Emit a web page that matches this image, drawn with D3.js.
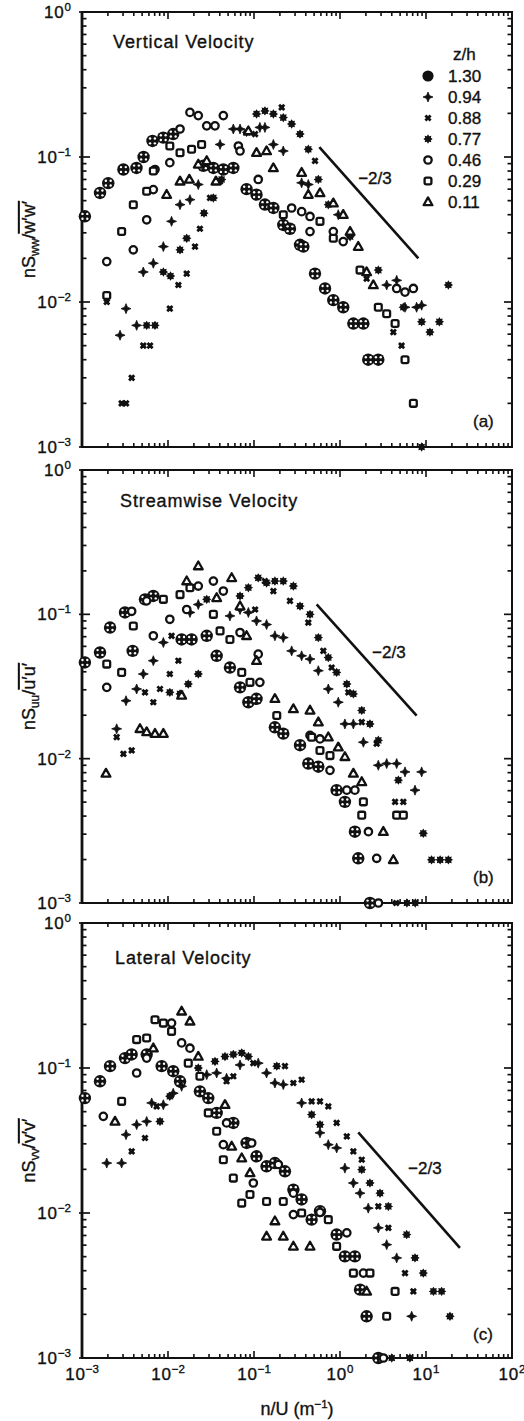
<!DOCTYPE html>
<html>
<head>
<meta charset="utf-8">
<script src="https://cdn.jsdelivr.net/npm/d3@7"></script>
<style>
  body { margin: 0; background: #fff; }
  svg { display: block; }
  text { font-family: "Liberation Sans", Arial, Helvetica, sans-serif; fill: #111; stroke: #111; stroke-width: 0.35px; }
</style>
</head>
<body>
<svg id="chart" width="524" height="1421"></svg>
<script>
// ---- axis ticks and labels ----
const xTickValues = [1e-3, 1e-2, 1e-1, 1e0, 1e1, 1e2];
const xTickExponents = ["−3", "−2", "−1", "0", "1", "2"];
const yTickValues = [1e-3, 1e-2, 1e-1, 1e0];
const yTickExponents = ["−3", "−2", "−1", "0"];

// ---- legend: measurement heights z/h ----
const heights = ["1.30", "0.94", "0.88", "0.77", "0.46", "0.29", "0.11"];

const panelTitles = ["Vertical Velocity", "Streamwise Velocity", "Lateral Velocity"];
const panelTags = ["(a)", "(b)", "(c)"];
const components = ["ww", "uu", "vv"];
const primes = ["w′w′", "u′u′", "v′v′"];

// ---- -2/3 reference lines: endpoints [n/U, spectrum] and label anchor ----
const slopeLines = [
  [[0.575, 0.117], [8.15, 0.020]],
  [[0.535, 0.117], [7.78, 0.0199]],
  [[1.63, 0.036], [24.8, 0.00574]]
];
const slopeLabelAt = [[2.55, 0.0716], [3.7, 0.0545], [9.7, 0.0204]];
const slopeLabel = "−2/3";

// ---- (a) vertical velocity spectra  [n/U, nSww/w'w'] ----
const w130 = [[1.08e-3,0.039],[1.62e-3,0.0565],[2.02e-3,0.066],[3.03e-3,0.082],[4.3e-3,0.084],[5.2e-3,0.10],[6.6e-3,0.129],[8.8e-3,0.136],[0.0115,0.144],[0.0258,0.087],[0.0337,0.084],[0.044,0.082],[0.0575,0.084],[0.082,0.060],[0.107,0.055],[0.134,0.047],[0.168,0.0445],[0.219,0.034],[0.262,0.032],[0.343,0.0248],[0.375,0.0241],[0.512,0.0157],[0.67,0.0124],[0.836,0.0103],[1.09,0.0092],[1.43,0.0071],[1.87,0.0071],[2.13,0.0040],[2.79,0.0040]];
const w094 = [[2.77e-3,0.0059],[3.25e-3,0.0090],[4.32e-3,0.0069],[5.16e-3,0.0161],[6.75e-3,0.0185],[8.83e-3,0.0241],[0.011,0.036],[0.0138,0.0469],[0.018,0.0508],[0.0225,0.0646],[0.0403,0.122],[0.0575,0.156],[0.0688,0.156],[0.117,0.16],[0.134,0.16],[0.168,0.122],[0.219,0.110],[0.358,0.0664],[0.428,0.0646],[0.955,0.040],[3.49,0.0131],[4.56,0.0141],[5.7,0.0092],[7.78,0.0092],[8.9,0.0095]];
const w088 = [[1.94e-3,0.0100],[2.89e-3,0.0020],[3.25e-3,0.0020],[3.78e-3,0.0030],[5.16e-3,0.0050],[6.18e-3,0.0050],[0.0105,0.0090],[0.0132,0.0131],[0.0165,0.0157],[0.0206,0.0241],[0.0235,0.032],[0.0308,0.0522],[0.0403,0.068],[0.103,0.144],[0.21,0.22],[0.512,0.094],[2.04,0.0145],[4.17,0.0062],[5.2,0.0050]];
const w077 = [[5.65e-3,0.0069],[7.06e-3,0.0069],[8.83e-3,0.0161],[0.0107,0.0151],[0.0138,0.0229],[0.0165,0.0275],[0.0262,0.041],[0.0337,0.0522],[0.042,0.070],[0.082,0.148],[0.107,0.198],[0.134,0.208],[0.168,0.198],[0.219,0.187],[0.274,0.169],[0.343,0.144],[0.428,0.113],[0.56,0.070],[0.731,0.0469],[1.31,0.0282],[2.79,0.0166],[5.45,0.0092],[8.9,0.0073],[11.1,0.0062],[14.3,0.0073],[18.2,0.0131],[8.9,0.001]];
const w046 = [[1.94e-3,0.019],[3.95e-3,0.0229],[5.65e-3,0.0369],[6.75e-3,0.0596],[7.06e-3,0.082],[0.0105,0.0914],[0.0138,0.156],[0.018,0.203],[0.0225,0.193],[0.0282,0.164],[0.0352,0.164],[0.044,0.193],[0.0658,0.119],[0.0688,0.110],[0.112,0.070],[0.274,0.0445],[0.358,0.042],[0.448,0.0389],[0.448,0.0306],[0.836,0.0306],[1.09,0.0261],[4.56,0.0124],[5.7,0.0117],[7.13,0.0124]];
const w029 = [[1.94e-3,0.0111],[2.89e-3,0.0306],[3.95e-3,0.0469],[5.65e-3,0.058],[6.75e-3,0.080],[0.0105,0.119],[0.0138,0.107],[0.0188,0.113],[0.0246,0.122],[0.219,0.040],[0.585,0.036],[0.836,0.0275],[1.71,0.0166],[2.79,0.0092],[3.49,0.0083],[4.37,0.0071],[5.7,0.0040],[7.13,0.0020]];
const w011 = [[9.64e-3,0.055],[0.0138,0.068],[0.0177,0.070],[0.0225,0.089],[0.0282,0.094],[0.0361,0.068],[0.086,0.151],[0.107,0.107],[0.14,0.110],[0.168,0.084],[0.358,0.078],[0.428,0.055],[0.585,0.0565],[0.836,0.048],[1.09,0.040],[1.31,0.0306],[1.63,0.0241],[2.04,0.0161],[2.44,0.0131]];

// ---- (b) streamwise velocity spectra  [n/U, nSuu/u'u'] ----
const u130 = [[1.08e-3,0.0464],[1.62e-3,0.0544],[2.12e-3,0.081],[3.16e-3,0.103],[3.88e-3,0.0558],[5.4e-3,0.127],[6.75e-3,0.134],[0.0144,0.067],[0.0188,0.067],[0.0282,0.071],[0.0368,0.0516],[0.0525,0.0428],[0.0688,0.0312],[0.086,0.0246],[0.107,0.026],[0.175,0.0165],[0.219,0.0149],[0.343,0.0124],[0.428,0.00925],[0.56,0.0088],[0.914,0.00605],[1.14,0.00502],[1.49,0.00312],[1.63,0.00204],[2.23,0.001]];
const u094 = [[2.53e-3,0.0161],[3.25e-3,0.0252],[4.32e-3,0.0304],[5.16e-3,0.0386],[6.75e-3,0.0477],[8.83e-3,0.0638],[0.018,0.103],[0.0225,0.117],[0.0525,0.0975],[0.0688,0.108],[0.086,0.103],[0.107,0.090],[0.14,0.085],[0.175,0.071],[0.219,0.069],[0.274,0.0558],[0.358,0.0516],[0.448,0.049],[0.56,0.0407],[0.731,0.0304],[0.955,0.0246],[1.14,0.0174],[1.43,0.0174],[1.87,0.013],[2.79,0.009],[3.49,0.00925],[4.56,0.00925],[5.7,0.0081],[7.45,0.00605],[8.9,0.0081]];
const u088 = [[2.53e-3,0.0141],[3.03e-3,0.0108],[3.78e-3,0.0114],[5.4e-3,0.0288],[6.75e-3,0.0246],[8.07e-3,0.0304],[0.0105,0.0386],[0.0132,0.0477],[0.011,0.071],[0.103,0.108],[0.134,0.17],[0.168,0.145],[0.262,0.124],[0.428,0.0877],[0.64,0.0558],[0.8,0.0428],[1.25,0.0288],[1.79,0.0179],[2.67,0.0127],[4.37,0.00502],[5.45,0.00502],[4.5,0.001]];
const u077 = [[0.0105,0.0288],[0.0138,0.0281],[0.0172,0.0329],[0.0225,0.0386],[0.0282,0.127],[0.0688,0.134],[0.086,0.153],[0.112,0.179],[0.14,0.165],[0.175,0.17],[0.219,0.17],[0.287,0.157],[0.343,0.114],[0.448,0.100],[0.56,0.069],[0.731,0.0502],[0.914,0.0396],[1.2,0.0329],[1.43,0.0281],[1.79,0.0216],[2.23,0.0174],[2.79,0.0134],[4.77,0.0071],[9.3,0.00304],[11.6,0.00199],[14.6,0.00199],[18.2,0.00199],[6.0,0.001],[7.5,0.001]];
const u046 = [[1.94e-3,0.0312],[3.78e-3,0.105],[5.65e-3,0.124],[6.75e-3,0.071],[0.0105,0.0924],[0.0165,0.108],[0.0225,0.157],[0.0337,0.17],[0.044,0.145],[0.0688,0.0748],[0.112,0.053],[0.117,0.0338],[0.448,0.0145],[0.585,0.0137],[0.765,0.0083],[1.2,0.00605],[1.49,0.00605],[2.14,0.00312],[2.67,0.00204],[2.8,0.001]];
const u029 = [[1.94e-3,0.0452],[2.89e-3,0.0396],[3.95e-3,0.083],[8.83e-3,0.127],[0.0138,0.137],[0.018,0.153],[0.0337,0.100],[0.0403,0.0768],[0.0525,0.067],[0.072,0.0396],[0.0898,0.0338],[0.184,0.0199],[0.468,0.0141],[0.585,0.0114],[0.765,0.0105],[1.87,0.00502],[1.79,0.00406],[4.56,0.00406],[5.45,0.00406]];
const u011 = [[1.9e-3,0.0079],[4.72e-3,0.0161],[5.65e-3,0.0153],[7.06e-3,0.0149],[8.83e-3,0.0149],[0.0144,0.0274],[0.0165,0.17],[0.0225,0.216],[0.0368,0.13],[0.055,0.179],[0.0688,0.114],[0.082,0.071],[0.107,0.0477],[0.175,0.026],[0.287,0.0221],[0.448,0.0216],[0.56,0.0179],[0.731,0.0141],[0.955,0.012],[1.14,0.0103],[1.43,0.0079],[1.79,0.0069],[3.19,0.00312],[4.17,0.00199]];

// ---- (c) lateral velocity spectra  [n/U, nSvv/v'v'] ----
const v130 = [[1.08e-3,0.062],[1.62e-3,0.081],[2.12e-3,0.103],[3.16e-3,0.117],[3.78e-3,0.124],[5.65e-3,0.124],[8.44e-3,0.103],[0.0115,0.095],[0.0138,0.081],[0.0235,0.069],[0.0294,0.062],[0.0368,0.049],[0.0575,0.0418],[0.082,0.0304],[0.107,0.0246],[0.14,0.021],[0.175,0.0221],[0.229,0.0194],[0.287,0.0145],[0.358,0.0124],[0.468,0.009],[0.585,0.0103],[0.914,0.0071],[1.14,0.00502],[1.49,0.00502],[1.71,0.00296],[2.04,0.00194],[2.79,0.001]];
const v094 = [[1.94e-3,0.0221],[2.89e-3,0.0221],[3.25e-3,0.0347],[4.32e-3,0.0407],[5.65e-3,0.0428],[6.46e-3,0.0574],[8.83e-3,0.0558],[0.0115,0.067],[0.0144,0.0748],[0.0282,0.090],[0.0368,0.0924],[0.048,0.085],[0.0688,0.105],[0.112,0.108],[0.14,0.0924],[0.175,0.0788],[0.219,0.0768],[0.358,0.0574],[0.585,0.0357],[0.731,0.0296],[0.914,0.0281],[1.14,0.0204],[1.43,0.0161],[1.71,0.0137],[2.13,0.0108],[2.79,0.0079],[3.49,0.00605],[4.56,0.0049],[6.81,0.00194]];
const v088 = [[3.78e-3,0.0266],[5.4e-3,0.0329],[7.38e-3,0.0544],[0.048,0.081],[0.0575,0.0877],[0.0982,0.108],[0.229,0.103],[0.287,0.0788],[0.358,0.083],[0.468,0.0589],[0.585,0.0589],[0.731,0.0544],[0.914,0.0418],[1.2,0.0338],[1.43,0.0266],[1.79,0.0233],[2.79,0.0111],[3.65,0.0079],[5.7,0.00385],[7.13,0.00288]];
const v077 = [[8.07e-3,0.0428],[0.0105,0.0638],[0.0225,0.100],[0.0352,0.111],[0.046,0.12],[0.0575,0.124],[0.072,0.127],[0.086,0.12],[0.184,0.103],[0.468,0.0477],[0.585,0.0407],[1.79,0.0199],[2.23,0.0161],[2.92,0.0137],[3.65,0.0111],[5.96,0.0071],[7.45,0.0049],[9.3,0.00385],[12.2,0.00288],[15.2,0.00288],[19.0,0.00194],[4.0,0.001],[6.5,0.001]];
const v046 = [[1.77e-3,0.0464],[4.32e-3,0.0924],[5.65e-3,0.117],[0.011,0.204],[0.0144,0.149],[0.018,0.137],[0.044,0.0296],[0.048,0.0418],[0.094,0.0304],[0.0982,0.0161],[0.192,0.0216],[0.287,0.0137],[0.287,0.00975],[0.585,0.0101],[1.2,0.0073],[1.87,0.00385],[3.2,0.001]];
const v029 = [[2.89e-3,0.0589],[4.32e-3,0.157],[5.65e-3,0.161],[7.06e-3,0.215],[8.83e-3,0.204],[0.011,0.179],[0.0172,0.108],[0.0235,0.0877],[0.0294,0.049],[0.0368,0.0366],[0.044,0.0233],[0.0575,0.0174],[0.072,0.0117],[0.0898,0.0134],[0.14,0.012],[0.219,0.012],[0.358,0.010],[0.731,0.009],[0.914,0.00589],[1.43,0.00385],[2.23,0.00385],[3.49,0.00194],[4.37,0.00288]];
const v011 = [[2.42e-3,0.0428],[6.75e-3,0.137],[0.0144,0.246],[0.018,0.21],[0.0225,0.12],[0.046,0.0558],[0.055,0.0288],[0.072,0.0239],[0.0898,0.0189],[0.14,0.0069],[0.175,0.0088],[0.219,0.0069],[0.287,0.00589],[0.448,0.00589],[2.04,0.00288]];

// series per panel, in legend order (1.30 ... 0.11)
const panelSeries = [
  [w130, w094, w088, w077, w046, w029, w011],
  [u130, u094, u088, u077, u046, u029, u011],
  [v130, v094, v088, v077, v046, v029, v011]
];

// ---- layout ----
const ink = "#111";
const plotLeft = 82, plotRight = 512;
const frames = [
  { top: 12, bottom: 447 },
  { top: 470, bottom: 903 },
  { top: 923, bottom: 1358 }
];

const svg = d3.select("#chart");
const x = d3.scaleLog().domain([1e-3, 1e2]).range([plotLeft, plotRight]);

// minor/major tick positions for a log axis
function logTicks(lo, hi) {
  const out = [];
  for (let e = Math.log10(lo); e < Math.log10(hi); e++) {
    for (let m = 1; m <= 9; m++) out.push({ v: m * Math.pow(10, e), major: m === 1 });
  }
  out.push({ v: hi, major: true });
  return out;
}

// marker glyphs, one per height
function starPath(points, rOut, rIn) {
  const pts = [];
  for (let i = 0; i < points * 2; i++) {
    const r = i % 2 === 0 ? rOut : rIn;
    const a = Math.PI * i / points - Math.PI / 2;
    pts.push([r * Math.cos(a), r * Math.sin(a)]);
  }
  return "M" + pts.map(p => p[0].toFixed(2) + "," + p[1].toFixed(2)).join("L") + "Z";
}

function drawMarker(g, k, legend) {
  switch (k) {
    case 0: // 1.30 — heavy circle with cross
      g.append("circle").attr("r", legend ? 5.6 : 6.2).attr("fill", ink);
      if (!legend) {
        [[-2.4, -2.4], [2.4, -2.4], [-2.4, 2.4], [2.4, 2.4]].forEach(([dx, dy]) =>
          g.append("circle").attr("cx", dx).attr("cy", dy).attr("r", 1.2).attr("fill", "#fff"));
      }
      break;
    case 1: // 0.94 — four-point star
      g.append("path").attr("d", starPath(4, 5, 2)).attr("fill", ink)
        .attr("stroke", ink).attr("stroke-width", 0.8).attr("stroke-linejoin", "round");
      break;
    case 2: // 0.88 — bold cross
      g.append("path").attr("d", "M-2.6,-2.6L2.6,2.6M-2.6,2.6L2.6,-2.6")
        .attr("stroke", ink).attr("stroke-width", 2.8).attr("fill", "none");
      g.append("rect").attr("x", -2).attr("y", -2).attr("width", 4).attr("height", 4).attr("fill", ink);
      break;
    case 3: // 0.77 — eight-point star
      g.append("path").attr("d", starPath(8, 4.7, 3.1)).attr("fill", ink);
      break;
    case 4: // 0.46 — open circle
      g.append("circle").attr("r", 3.7).attr("fill", "#fff").attr("stroke", ink).attr("stroke-width", 2.3);
      break;
    case 5: // 0.29 — open square
      g.append("rect").attr("x", -3.4).attr("y", -3.4).attr("width", 6.8).attr("height", 6.8).attr("rx", 1.6)
        .attr("fill", "#fff").attr("stroke", ink).attr("stroke-width", 2.3);
      break;
    case 6: // 0.11 — triangle
      g.append("path").attr("d", "M0,-4.6L4.4,3.2L-4.4,3.2Z")
        .attr("fill", "#fff").attr("stroke", ink).attr("stroke-width", 2.3).attr("stroke-linejoin", "round");
      break;
  }
}

function powerLabel(sel, exp, baseSize, supSize, rise) {
  sel.append("tspan").text("10").attr("font-size", baseSize).attr("letter-spacing", 0.8);
  sel.append("tspan").text(exp).attr("font-size", supSize).attr("dy", -rise);
}

frames.forEach((f, p) => {
  const y = d3.scaleLog().domain([1e-3, 1]).range([f.bottom, f.top]);
  const g = svg.append("g");

  // frame
  g.append("rect").attr("x", plotLeft).attr("y", f.top)
    .attr("width", plotRight - plotLeft).attr("height", f.bottom - f.top)
    .attr("fill", "none").attr("stroke", ink).attr("stroke-width", 2);
  g.append("line").attr("x1", plotLeft).attr("x2", plotLeft).attr("y1", f.top).attr("y2", f.bottom)
    .attr("stroke", ink).attr("stroke-width", 2.8);

  // y ticks (left and right, pointing inward)
  logTicks(1e-3, 1).forEach(t => {
    const yy = y(t.v);
    const len = t.major ? 8 : 4.5;
    g.append("line").attr("x1", plotLeft - (t.major ? 3 : 0)).attr("x2", plotLeft + len)
      .attr("y1", yy).attr("y2", yy).attr("stroke", ink).attr("stroke-width", 1.7);
    g.append("line").attr("x1", plotRight).attr("x2", plotRight - len)
      .attr("y1", yy).attr("y2", yy).attr("stroke", ink).attr("stroke-width", 1.7);
  });
  // x ticks (bottom and top, pointing inward)
  logTicks(1e-3, 1e2).forEach(t => {
    const xx = x(t.v);
    const len = t.major ? 7 : 4;
    g.append("line").attr("x1", xx).attr("x2", xx).attr("y1", f.bottom).attr("y2", f.bottom - len)
      .attr("stroke", ink).attr("stroke-width", 1.6);
    g.append("line").attr("x1", xx).attr("x2", xx).attr("y1", f.top).attr("y2", f.top + len)
      .attr("stroke", ink).attr("stroke-width", 1.6);
  });

  // y tick labels
  yTickValues.forEach((v, i) => {
    const t = g.append("text").attr("x", 71).attr("y", y(v) + 6).attr("text-anchor", "end");
    powerLabel(t, yTickExponents[i], 17, 11.5, 7);
  });

  // y axis title
  const cy = (f.top + f.bottom) / 2 + 10;
  const yt = g.append("text").attr("transform", `translate(35,${cy}) rotate(-90)`)
    .attr("text-anchor", "middle").attr("font-size", 18);
  yt.append("tspan").text("nS");
  yt.append("tspan").text(components[p]).attr("font-size", 12).attr("dy", 4);
  yt.append("tspan").text("/").attr("dy", -4);
  yt.append("tspan").text(primes[p]).style("text-decoration", "overline");

  // panel title and tag
  g.append("text").attr("x", [113, 120, 115][p]).attr("y", f.top + [36, 37, 41][p])
    .attr("font-size", 18).attr("letter-spacing", 0.9).text(panelTitles[p]);
  g.append("text").attr("x", 473).attr("y", f.bottom - [20, 20, 18][p])
    .attr("font-size", 17).text(panelTags[p]);

  // -2/3 reference line
  const [s0, s1] = slopeLines[p];
  g.append("line").attr("x1", x(s0[0])).attr("y1", y(s0[1])).attr("x2", x(s1[0])).attr("y2", y(s1[1]))
    .attr("stroke", ink).attr("stroke-width", 2.6);
  g.append("text").attr("x", x(slopeLabelAt[p][0])).attr("y", y(slopeLabelAt[p][1]) + 6)
    .attr("text-anchor", "middle").attr("font-size", 17).text(slopeLabel);

  // data points
  panelSeries[p].forEach((data, k) => {
    g.append("g").selectAll("g").data(data).enter().append("g")
      .attr("transform", d => `translate(${x(d[0])},${y(d[1])})`)
      .each(function () { drawMarker(d3.select(this), k, false); });
  });

  // legend (top panel only)
  if (p === 0) {
    const lg = g.append("g");
    lg.append("text").attr("x", 453).attr("y", 60).attr("font-size", 17).text("z/h");
    heights.forEach((h, k) => {
      const by = 82 + k * 21;
      const m = lg.append("g").attr("transform", `translate(428,${by - 6})`);
      drawMarker(m, k, true);
      lg.append("text").attr("x", 448).attr("y", by).attr("font-size", 17).text(h);
    });
  }
});

// x tick labels under the bottom panel
const fb = frames[2];
xTickValues.forEach((v, i) => {
  const t = svg.append("text").attr("x", x(v)).attr("y", fb.bottom + 22).attr("text-anchor", "middle");
  powerLabel(t, xTickExponents[i], 17, 11.5, 7);
});

// x axis title
const xt = svg.append("text").attr("x", (plotLeft + plotRight) / 2).attr("y", 1415)
  .attr("text-anchor", "middle").attr("font-size", 18);
xt.append("tspan").text("n/U (m");
xt.append("tspan").text("−1").attr("font-size", 11.5).attr("dy", -7);
xt.append("tspan").text(")").attr("dy", 7);
</script>
</body>
</html>
